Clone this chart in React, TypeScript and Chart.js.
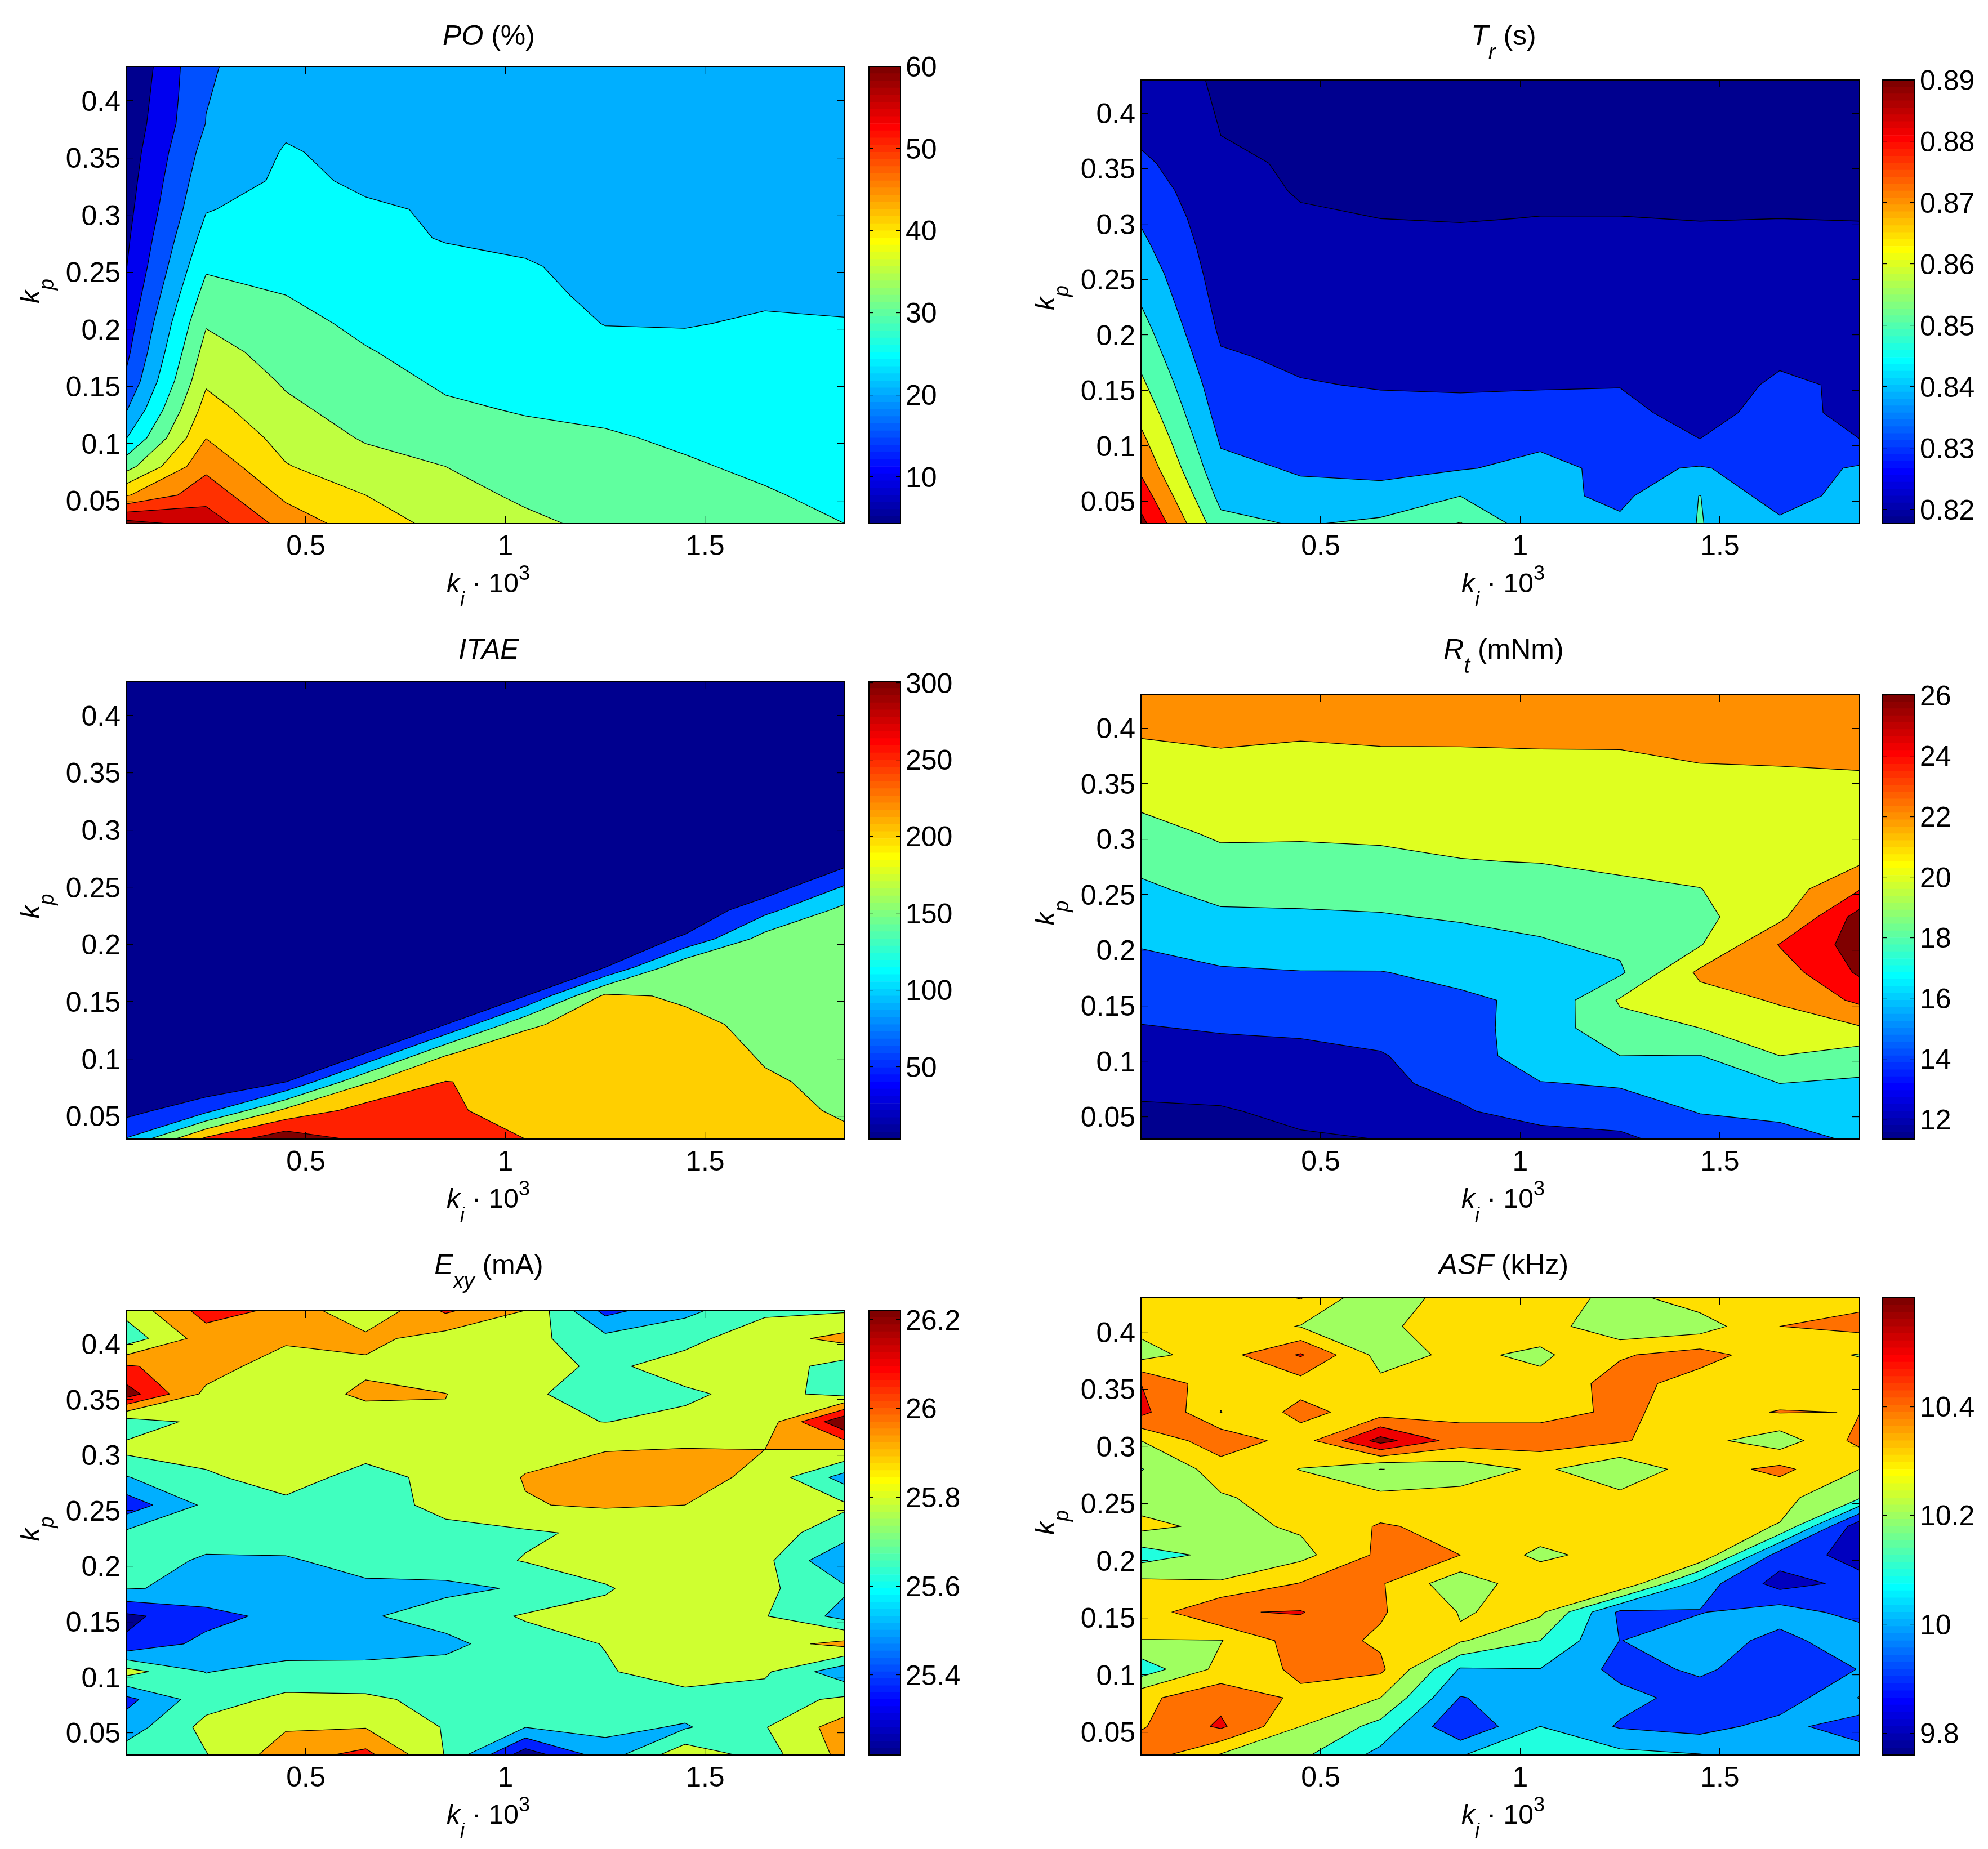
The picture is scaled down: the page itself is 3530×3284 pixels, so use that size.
import React, { useEffect, useRef } from "react";
import { Chart, registerables } from "chart.js";

Chart.register(...registerables);

const kiValues = [0.05, 0.25, 0.45, 0.65, 0.85, 1.05, 1.25, 1.45, 1.65, 1.85];
const kpValues = [0.43, 0.405, 0.38, 0.355, 0.33, 0.305, 0.28, 0.255, 0.23, 0.205, 0.18, 0.155, 0.13, 0.105, 0.08, 0.055, 0.03];
const kiTicks = [0.5, 1, 1.5];
const kpTicks = [0.05, 0.1, 0.15, 0.2, 0.25, 0.3, 0.35, 0.4];

// one inner list per ki value, top (kp = 0.43) to bottom (kp = 0.03)
const poColumns = [
  [5, 5.8, 6.5, 7.2, 7.8, 8.4, 9.1, 9.8, 11, 12.4, 13.8, 15.8, 19.6, 24.8, 33, 44.5, 62],
  [19.7, 19.8, 20.1, 21.8, 23.2, 24.7, 26.9, 29.3, 31.9, 34.6, 36.9, 39.2, 42, 44.9, 48.8, 53, 58],
  [21.5, 22.8, 24.4, 25.3, 25.6, 27, 28, 29.2, 30, 31.5, 33, 34.4, 36, 38.2, 40.3, 43.9, 48],
  [22, 22.6, 23.2, 24, 24.6, 25.3, 26, 26.9, 27.8, 29, 30.3, 31.5, 33, 34.5, 37, 40, 42.3],
  [22.6, 23, 23.4, 23.7, 24, 24.75, 24.8, 25.9, 26.6, 27.5, 28.3, 29.4, 30.6, 33, 35, 36.7, 38.6],
  [22.5, 22.8, 23, 23.2, 23.6, 24, 24.5, 25.2, 26, 26.7, 27.5, 28.6, 29.7, 31, 32.4, 34.2, 36],
  [22.3, 22.5, 22.7, 22.8, 23, 23.2, 23.5, 24.3, 24.2, 24.9, 26.2, 27.6, 29, 30.5, 31.8, 33, 33.9],
  [22, 22.1, 22.2, 22.4, 22.6, 22.8, 23.1, 23.5, 24, 24.8, 26, 27.1, 28.3, 29.3, 30.5, 31.6, 32.8],
  [21.8, 22, 22.1, 22.3, 22.5, 22.8, 23.2, 23.7, 24.5, 25.4, 26, 26.6, 27.3, 28, 29.2, 30.4, 31.5],
  [21.5, 21.7, 21.9, 22, 22.2, 22.5, 23, 23.6, 24.3, 25.2, 25.7, 26.2, 26.8, 27.3, 28, 28.9, 30],
];
const trColumns = [
  [0.825, 0.8265, 0.828, 0.832, 0.8355, 0.839, 0.8423, 0.846, 0.8495, 0.8535, 0.8575, 0.862, 0.867, 0.8725, 0.878, 0.8855, 0.893],
  [0.8188, 0.8193, 0.82, 0.8215, 0.8226, 0.8235, 0.8245, 0.8255, 0.8268, 0.8285, 0.831, 0.8336, 0.836, 0.839, 0.8425, 0.847, 0.853],
  [0.8178, 0.8182, 0.8186, 0.819, 0.8195, 0.8207, 0.8218, 0.8229, 0.824, 0.8255, 0.8286, 0.8305, 0.8325, 0.8355, 0.839, 0.8425, 0.8491],
  [0.8177, 0.8179, 0.8182, 0.8186, 0.8192, 0.82, 0.8215, 0.823, 0.8243, 0.8258, 0.8272, 0.8295, 0.8322, 0.835, 0.8378, 0.8427, 0.8521],
  [0.8177, 0.8178, 0.818, 0.8184, 0.819, 0.8198, 0.8212, 0.8225, 0.8238, 0.8252, 0.8268, 0.8292, 0.832, 0.8345, 0.8393, 0.8499, 0.8605],
  [0.8177, 0.8178, 0.818, 0.8183, 0.819, 0.8201, 0.8213, 0.8225, 0.8238, 0.8252, 0.8268, 0.8293, 0.8332, 0.8383, 0.8425, 0.8427, 0.8427],
  [0.8177, 0.8178, 0.818, 0.8183, 0.819, 0.8201, 0.8213, 0.8225, 0.8238, 0.8252, 0.8272, 0.8297, 0.8325, 0.835, 0.8377, 0.8378, 0.8417],
  [0.8177, 0.8178, 0.818, 0.8183, 0.8189, 0.8199, 0.821, 0.822, 0.8228, 0.8238, 0.8245, 0.8252, 0.8265, 0.8302, 0.8408, 0.8502, 0.8504],
  [0.8177, 0.8178, 0.818, 0.8183, 0.8188, 0.82, 0.8212, 0.8222, 0.8235, 0.8255, 0.8285, 0.8316, 0.8338, 0.8345, 0.8355, 0.8345, 0.8424],
  [0.8177, 0.8178, 0.818, 0.8183, 0.8188, 0.8199, 0.821, 0.8222, 0.8235, 0.8252, 0.8268, 0.8285, 0.8268, 0.8302, 0.8412, 0.845, 0.8455],
];
const itaeColumns = [
  [3, 3, 3, 3, 3.2, 3.4, 3.6, 3.8, 4, 4.3, 4.6, 5, 5.6, 6.5, 9, 32, 103],
  [3, 3, 3, 3.1, 3.2, 3.4, 3.5, 3.7, 3.9, 4.2, 4.5, 5, 5.8, 6.8, 10, 85, 262],
  [3, 3, 3.1, 3.1, 3.3, 3.4, 3.6, 3.8, 4, 4.3, 4.6, 5.2, 6, 9, 49, 211, 335],
  [3, 3, 3.1, 3.2, 3.3, 3.5, 3.7, 3.9, 4.1, 4.5, 5, 5.8, 12, 50, 195, 270, 288],
  [3, 3.1, 3.1, 3.2, 3.4, 3.6, 3.8, 4.1, 4.4, 5, 5.8, 10, 50, 195, 251, 258, 265],
  [3.1, 3.1, 3.2, 3.3, 3.5, 3.7, 4, 4.3, 5, 6, 10, 50, 190, 238, 240, 230, 250],
  [3.1, 3.2, 3.3, 3.4, 3.6, 3.9, 4.3, 5, 6, 8, 50, 210, 230, 235, 235, 225, 220],
  [3.2, 3.3, 3.4, 3.5, 3.7, 3.9, 4.2, 4.6, 7, 58, 190, 193, 212, 225, 225, 220, 215],
  [3.3, 3.4, 3.5, 3.6, 3.8, 4, 4.4, 5, 85, 170, 177, 183, 188, 195, 205, 205, 205],
  [3.4, 3.5, 3.6, 3.8, 4, 4.4, 8, 90, 165, 163, 165, 165, 170, 172, 190, 198, 203],
];
const rtColumns = [
  [23.1, 22.4, 21.7, 20.9, 20.2, 19.34, 18.5, 17.67, 16.9, 16.1, 15.4, 14.65, 13.9, 13.2, 12.45, 11.75, 11.4],
  [23.3, 22.6, 21.95, 21.4, 20.8, 20.25, 19.5, 18.6, 17.65, 16.7, 15.8, 15, 14.15, 13.4, 12.6, 11.85, 11.4],
  [23, 22.4, 21.8, 21.2, 20.7, 20.2, 19.5, 18.6, 17.75, 16.85, 15.95, 15.1, 14.25, 13.6, 13, 12.4, 11.8],
  [23.2, 22.6, 21.9, 21.4, 20.9, 20.3, 19.6, 18.75, 17.85, 16.95, 15.95, 15.25, 14.5, 13.9, 13.75, 12.9, 12.02],
  [23.1, 22.7, 21.9, 21.4, 20.8, 20.4, 19.95, 19.05, 18.2, 17.2, 16.4, 15.75, 15.3, 14.85, 14.35, 13.85, 13],
  [23.2, 22.6, 21.97, 21.4, 20.9, 20.5, 20.05, 19.3, 18.5, 17.8, 17.3, 16.3, 16.9, 17.3, 15.9, 14.6, 13.4],
  [23.4, 22.7, 21.98, 21.5, 21.1, 20.7, 20.25, 19.75, 19.2, 18.4, 17.7, 20.2, 19.4, 18, 16.2, 15, 13.6],
  [23, 22.7, 22.35, 21.6, 21.2, 20.9, 20.5, 19.97, 19.5, 19.85, 22.4, 21.2, 20, 17.95, 17, 16.1, 15],
  [23, 22.7, 22.4, 21.7, 21.4, 21, 20.7, 20.9, 21.5, 24.1, 23, 22.2, 21.1, 20, 18, 16.33, 15.5],
  [23.7, 23, 22.4, 21.85, 21.3, 21, 21.7, 23.9, 26.8, 26.85, 26.3, 24.4, 21.8, 19.03, 17.7, 16.8, 16.2],
];
// one inner list per kp value, left (ki = 0.05) to right (ki = 1.85)
const exyRows = [
  [25.834, 26.134, 26.044, 25.806, 26.099, 25.931, 25.463, 25.613, 25.763, 25.777],
  [25.706, 26.006, 25.963, 25.974, 25.87, 25.841, 25.691, 25.749, 25.877, 25.977],
  [26.091, 26.006, 25.849, 25.906, 25.82, 25.849, 25.763, 25.849, 25.863, 25.734],
  [26.291, 25.899, 25.849, 25.963, 25.937, 25.813, 25.734, 25.77, 25.834, 25.749],
  [25.72, 25.827, 25.82, 25.849, 25.92, 25.82, 25.789, 25.82, 25.849, 26.349],
  [25.827, 25.834, 25.834, 25.834, 25.863, 25.891, 25.927, 25.939, 25.934, 25.934],
  [25.641, 25.774, 25.841, 25.749, 25.827, 25.941, 26.02, 26.006, 25.884, 25.591],
  [25.42, 25.677, 25.763, 25.734, 25.827, 25.927, 25.949, 25.934, 25.834, 25.813],
  [25.677, 25.699, 25.72, 25.749, 25.756, 25.77, 25.82, 25.863, 25.849, 25.72],
  [25.706, 25.634, 25.634, 25.699, 25.72, 25.799, 25.863, 25.877, 25.827, 25.506],
  [25.656, 25.627, 25.599, 25.62, 25.62, 25.663, 25.777, 25.891, 25.82, 25.67],
  [25.334, 25.449, 25.556, 25.634, 25.706, 25.806, 25.834, 25.877, 25.799, 25.599],
  [25.384, 25.553, 25.563, 25.57, 25.613, 25.727, 25.796, 25.877, 25.877, 25.977],
  [25.849, 25.644, 25.706, 25.706, 25.706, 25.734, 25.777, 25.863, 25.813, 25.549],
  [25.463, 25.734, 25.82, 25.813, 25.756, 25.691, 25.706, 25.734, 25.727, 25.82],
  [25.577, 25.834, 25.92, 25.927, 25.781, 25.651, 25.691, 25.634, 25.784, 26.006],
  [25.72, 25.784, 26.013, 26.12, 25.784, 25.277, 25.577, 25.891, 25.734, 25.977],
];
const asfRows = [
  [10.33, 10.33, 10.405, 10.21, 10.37, 10.36, 10.265, 10.355, 10.34, 10.37],
  [10.33, 10.36, 10.295, 10.27, 10.38, 10.35, 10.22, 10.25, 10.4, 10.43],
  [10.26, 10.36, 10.51, 10.265, 10.32, 10.28, 10.39, 10.44, 10.34, 10.295],
  [10.5, 10.33, 10.36, 10.32, 10.34, 10.33, 10.44, 10.355, 10.34, 10.36],
  [10.53, 10.298, 10.43, 10.35, 10.37, 10.37, 10.415, 10.367, 10.405, 10.398],
  [10.3, 10.47, 10.35, 10.64, 10.45, 10.45, 10.412, 10.33, 10.244, 10.43],
  [10.195, 10.345, 10.298, 10.198, 10.24, 10.32, 10.22, 10.355, 10.425, 10.3],
  [10.25, 10.29, 10.34, 10.33, 10.34, 10.35, 10.33, 10.35, 10.33, 10.21],
  [10.33, 10.27, 10.314, 10.41, 10.37, 10.36, 10.35, 10.34, 10.295, 9.83],
  [10.15, 10.23, 10.27, 10.42, 10.4, 10.275, 10.345, 10.39, 9.95, 9.865],
  [10.33, 10.31, 10.405, 10.41, 10.23, 10.38, 10.39, 10.05, 9.86, 9.93],
  [10.34, 10.495, 10.505, 10.41, 10.295, 10.32, 9.98, 9.995, 10.05, 9.96],
  [10.298, 10.296, 10.45, 10.385, 10.31, 10.2, 9.998, 10.06, 9.965, 10.07],
  [10.14, 10.33, 10.42, 10.42, 10.09, 10.098, 9.97, 10.013, 9.955, 10.002],
  [10.375, 10.47, 10.38, 10.3, 9.995, 10.05, 10.03, 9.965, 9.94, 10.105],
  [10.39, 10.517, 10.3, 10.167, 9.91, 10.1, 9.99, 9.96, 10.04, 9.93],
  [10.46, 10.29, 10.22, 10.07, 10.095, 10.18, 10.13, 10.105, 10.05, 10.06],
];

const poLevels = [10, 15, 20, 25, 30, 35, 40, 45, 50, 55, 60];
const trLevels = [0.82, 0.83, 0.84, 0.85, 0.86, 0.87, 0.88, 0.89];
const itaeLevels = [50, 100, 150, 200, 250, 300];
const rtLevels = [12, 14, 16, 18, 20, 22, 24, 26];
const exyLevels = [25.363, 25.506, 25.649, 25.791, 25.934, 26.077, 26.22];
const asfLevels = [9.8, 9.9, 10, 10.1, 10.2, 10.3, 10.4, 10.5, 10.6];

const poBarTicks = [10, 20, 30, 40, 50, 60];
const trBarTicks = [0.82, 0.83, 0.84, 0.85, 0.86, 0.87, 0.88, 0.89];
const itaeBarTicks = [50, 100, 150, 200, 250, 300];
const rtBarTicks = [12, 14, 16, 18, 20, 22, 24, 26];
const exyBarTicks = [25.4, 25.6, 25.8, 26, 26.2];
const asfBarTicks = [9.8, 10, 10.2, 10.4];

// ambiguous grid cells as the picture resolves them: level, ki index, kp index, whether high corners join
const exySaddles: [number, number, number, boolean][] = [[25.649, 6, 15, false]];
const asfSaddles: [number, number, number, boolean][] = [
  [10.4, 0, 4, true],
  [10.4, 2, 4, false],
  [10.4, 1, 13, false],
  [10.3, 4, 11, true],
];

const FONT = '"Liberation Sans"';
const TICK_SIZE = 50;
const TITLE_SIZE = 50;
const LABEL_SIZE = 48;
const SMALL_RATIO = 0.76;
const Y_AXIS_W = 200;
const X_AXIS_H = 80;
const BAR_AXIS_W = 130;

type Run = { t: string; i?: boolean; sub?: boolean; sup?: boolean };

const transpose = (cols: number[][]) => kpValues.map((_, r) => cols.map((col) => col[r]));

const PANELS = [
  { key: "po", z: transpose(poColumns), levels: poLevels, bar: poBarTicks, saddles: [], range: [4.3, 60], title: [{ t: "PO", i: true }, { t: " (%)" }] as Run[], col: 0, y0: 0, h: 1100, top: 118, bottom: 930, titleY: 80 },
  { key: "tr", z: transpose(trColumns), levels: trLevels, bar: trBarTicks, saddles: [], range: [0.8177, 0.89], title: [{ t: "T", i: true }, { t: "r", i: true, sub: true }, { t: " (s)" }] as Run[], col: 1, y0: 0, h: 1100, top: 142, bottom: 930, titleY: 80 },
  { key: "itae", z: transpose(itaeColumns), levels: itaeLevels, bar: itaeBarTicks, saddles: [], range: [3, 301], title: [{ t: "ITAE", i: true }] as Run[], col: 0, y0: 1100, h: 1090, top: 1210, bottom: 2023, titleY: 1170 },
  { key: "rt", z: transpose(rtColumns), levels: rtLevels, bar: rtBarTicks, saddles: [], range: [11.35, 26.02], title: [{ t: "R", i: true }, { t: "t", i: true, sub: true }, { t: " (mNm)" }] as Run[], col: 1, y0: 1100, h: 1090, top: 1234, bottom: 2023, titleY: 1170 },
  { key: "exy", z: exyRows, levels: exyLevels, bar: exyBarTicks, saddles: exySaddles, range: [25.22, 26.22], title: [{ t: "E", i: true }, { t: "xy", i: true, sub: true }, { t: " (mA)" }] as Run[], col: 0, y0: 2190, h: 1094, top: 2328, bottom: 3117, titleY: 2263 },
  { key: "asf", z: asfRows, levels: asfLevels, bar: asfBarTicks, saddles: asfSaddles, range: [9.76, 10.6], title: [{ t: "ASF", i: true }, { t: " (kHz)" }] as Run[], col: 1, y0: 2190, h: 1094, top: 2305, bottom: 3117, titleY: 2263 },
];

const COLS = [
  { x0: 0, w: 1530, left: 224, right: 1500, barX0: 1533, barW: 260, barL: 1543, barR: 1599 },
  { x0: 1800, w: 1530, left: 2026, right: 3302, barX0: 3333, barW: 197, barL: 3343, barR: 3400 },
];

// MATLAB's 64-entry jet map
const jetRamp: number[] = [];
for (let k = 1; k <= 16; k++) jetRamp.push(k / 16);
for (let k = 0; k < 15; k++) jetRamp.push(1);
for (let k = 16; k >= 1; k--) jetRamp.push(k / 16);
function jet(i: number) {
  const at = (k: number) => (k >= 0 && k < jetRamp.length ? jetRamp[k] : 0);
  const c = (v: number) => Math.round(v * 255);
  return `rgb(${c(at(i - 24))},${c(at(i - 8))},${c(at(i + 8))})`;
}
const colorOf = (v: number, range: number[]) =>
  jet(Math.max(0, Math.min(63, Math.floor(((v - range[0]) / (range[1] - range[0])) * 64))));

type P = { x: number; y: number; k: string };
const mk = (x: number, y: number): P => ({ x, y, k: `${x.toFixed(8)},${y.toFixed(9)}` });

function ringsAt(z: number[][], L: number, saddles: [number, number, number, boolean][]) {
  const edges = new Map<string, [P, P]>();
  const add = (a: P, b: P) => {
    if (a.k === b.k) return;
    const rev = `${b.k}|${a.k}`;
    if (edges.has(rev)) edges.delete(rev);
    else edges.set(`${a.k}|${b.k}`, [a, b]);
  };
  const vertex = (p: number[]) => mk(kiValues[p[0]], kpValues[p[1]]);
  const crossing = (p: number[], q: number[]) => {
    const low = p[0] + p[1] < q[0] + q[1] ? p : q;
    const high = low === p ? q : p;
    const zl = z[low[1]][low[0]];
    const zh = z[high[1]][high[0]];
    const t = (L - zl) / (zh - zl);
    return mk(
      kiValues[low[0]] + (kiValues[high[0]] - kiValues[low[0]]) * t,
      kpValues[low[1]] + (kpValues[high[1]] - kpValues[low[1]]) * t
    );
  };
  const addPoly = (poly: P[]) => {
    for (let i = 0; i < poly.length; i++) add(poly[i], poly[(i + 1) % poly.length]);
  };
  for (let r = 0; r < kpValues.length - 1; r++) {
    for (let c = 0; c < kiValues.length - 1; c++) {
      const corners = [[c, r], [c + 1, r], [c + 1, r + 1], [c, r + 1]];
      const vals = corners.map((p) => z[p[1]][p[0]]);
      const inside = vals.map((v) => v >= L);
      const saddle = inside[0] === inside[2] && inside[1] === inside[3] && inside[0] !== inside[1];
      const rule = saddles.find((s) => s[0] === L && s[1] === c && s[2] === r);
      const joined = rule ? rule[3] : (vals[0] + vals[1] + vals[2] + vals[3]) / 4 >= L;
      if (saddle && !joined) {
        for (let i = 0; i < 4; i++) {
          if (!inside[i]) continue;
          addPoly([vertex(corners[i]), crossing(corners[i], corners[(i + 1) % 4]), crossing(corners[(i + 3) % 4], corners[i])]);
        }
        continue;
      }
      const poly: P[] = [];
      for (let i = 0; i < 4; i++) {
        const j = (i + 1) % 4;
        if (inside[i]) poly.push(vertex(corners[i]));
        if (inside[i] !== inside[j]) poly.push(crossing(corners[i], corners[j]));
      }
      addPoly(poly);
    }
  }
  const outgoing = new Map<string, [P, P][]>();
  edges.forEach((e) => {
    if (!outgoing.has(e[0].k)) outgoing.set(e[0].k, []);
    outgoing.get(e[0].k)!.push(e);
  });
  const rings: P[][] = [];
  outgoing.forEach((list) => {
    while (list.length) {
      const first = list.pop()!;
      const ring: P[] = [first[0]];
      let cur = first[1];
      let guard = 0;
      while (cur.k !== first[0].k && guard++ < 20000) {
        ring.push(cur);
        const next = outgoing.get(cur.k);
        if (!next || !next.length) break;
        cur = next.pop()![1];
      }
      ring.push(first[0]);
      rings.push(ring);
    }
  });
  return rings;
}

function areaOf(ring: P[]) {
  let a = 0;
  for (let i = 0; i < ring.length - 1; i++) a += ring[i].x * ring[i + 1].y - ring[i + 1].x * ring[i].y;
  return a / 2;
}

function contourDatasets(z: number[][], levels: number[], range: number[], saddles: any) {
  const xMin = kiValues[0];
  const xMax = kiValues[kiValues.length - 1];
  const yMin = kpValues[kpValues.length - 1];
  const yMax = kpValues[0];
  const base = [mk(xMin, yMax), mk(xMax, yMax), mk(xMax, yMin), mk(xMin, yMin), mk(xMin, yMax)];
  const layers = [{ ring: base, size: Infinity, order: -1, color: colorOf(range[0], range) }];
  levels.forEach((L, li) => {
    ringsAt(z, L, saddles).forEach((ring) => {
      const a = areaOf(ring);
      const outer = a < 0; // cells are walked clockwise in data space
      const fillValue = outer ? L : li > 0 ? levels[li - 1] : range[0];
      layers.push({ ring, size: Math.abs(a), order: li, color: colorOf(fillValue, range) });
    });
  });
  layers.sort((p, q) => q.size - p.size || p.order - q.order);
  // Chart.js paints the last dataset first, so the largest loop goes last
  return layers.reverse().map((l) => ({
    data: l.ring.map((p) => ({ x: p.x, y: p.y })),
    showLine: true,
    fill: "shape",
    backgroundColor: l.color,
    borderColor: "#000",
    borderWidth: 1.3,
    pointRadius: 0,
    tension: 0.0001,
    capBezierPoints: true,
  }));
}

function drawRuns(ctx: CanvasRenderingContext2D, runs: Run[], x: number, y: number, rotate: boolean, size: number) {
  const small = Math.round(size * SMALL_RATIO);
  const fontOf = (r: Run) => `${r.i ? "italic " : ""}${r.sub || r.sup ? small : size}px ${FONT}`;
  let width = 0;
  runs.forEach((r) => {
    ctx.font = fontOf(r);
    width += ctx.measureText(r.t).width;
  });
  ctx.save();
  ctx.translate(x, y);
  if (rotate) ctx.rotate(-Math.PI / 2);
  ctx.fillStyle = "#000";
  ctx.textBaseline = "alphabetic";
  ctx.textAlign = "left";
  let pen = -width / 2;
  runs.forEach((r) => {
    ctx.font = fontOf(r);
    ctx.fillText(r.t, pen, r.sub ? 25 : r.sup ? -22 : 0);
    pen += ctx.measureText(r.t).width;
  });
  ctx.restore();
}

const xLabel: Run[] = [{ t: "k", i: true }, { t: "i", i: true, sub: true }, { t: " \u00B7 10" }, { t: "3", sup: true }];
const yLabel: Run[] = [{ t: "k", i: true }, { t: "p", i: true, sub: true }];

const fixedTicks = (values: number[]) => (s: any) => {
  s.ticks = values.map((value) => ({ value }));
};
const widthOf = (w: number) => (s: any) => {
  s.width = w;
};
const heightOf = (h: number) => (s: any) => {
  s.height = h;
};
const labelOf = (v: any) => String(v);

function ContourPanel({ panel }: { panel: (typeof PANELS)[number] }) {
  const ref = useRef<HTMLCanvasElement>(null);
  useEffect(() => {
    const col = COLS[panel.col];
    const frame = { display: true, color: "#000", width: 2, z: 1 };
    const marks = { drawOnChartArea: false, drawTicks: true, tickLength: -13, color: "#000", lineWidth: 1.2, z: 1 };
    const font = { family: FONT, size: TICK_SIZE };
    const text = {
      id: "panelText",
      afterDraw(chart: any) {
        const ctx = chart.ctx;
        const area = chart.chartArea;
        const cx = (area.left + area.right) / 2;
        drawRuns(ctx, panel.title, cx + 6, panel.titleY - panel.y0, false, TITLE_SIZE);
        drawRuns(ctx, xLabel, cx + 5, area.bottom + 122, false, LABEL_SIZE);
        drawRuns(ctx, yLabel, area.left - 154, (area.top + area.bottom) / 2 - 7, true, LABEL_SIZE);
      },
    };
    const chart = new Chart(ref.current!, {
      type: "scatter",
      data: { datasets: contourDatasets(panel.z, panel.levels, panel.range, panel.saddles) as any },
      plugins: [text],
      options: {
        animation: false,
        responsive: false,
        events: [],
        layout: {
          padding: {
            left: col.left - col.x0 - Y_AXIS_W,
            right: col.x0 + col.w - col.right,
            top: panel.top - panel.y0,
            bottom: panel.y0 + panel.h - panel.bottom - X_AXIS_H,
          },
        },
        plugins: { legend: { display: false }, tooltip: { enabled: false } },
        scales: {
          x: {
            type: "linear", position: "bottom", min: 0.05, max: 1.85,
            afterBuildTicks: fixedTicks(kiTicks), afterFit: heightOf(X_AXIS_H),
            border: frame, grid: marks,
            ticks: { callback: labelOf, font, color: "#000", padding: 25, autoSkip: false, maxRotation: 0 },
          },
          x2: {
            type: "linear", position: "top", min: 0.05, max: 1.85,
            afterBuildTicks: fixedTicks(kiTicks), afterFit: heightOf(0),
            border: frame, grid: marks, ticks: { display: false },
          },
          y: {
            type: "linear", position: "left", min: 0.03, max: 0.43,
            afterBuildTicks: fixedTicks(kpTicks), afterFit: widthOf(Y_AXIS_W),
            border: frame, grid: marks,
            ticks: { callback: labelOf, font, color: "#000", padding: 23, autoSkip: false, labelOffset: 4 },
          },
          y2: {
            type: "linear", position: "right", min: 0.03, max: 0.43,
            afterBuildTicks: fixedTicks(kpTicks), afterFit: widthOf(0),
            border: frame, grid: marks, ticks: { display: false },
          },
        },
      } as any,
    });
    return () => chart.destroy();
  }, [panel]);
  const col = COLS[panel.col];
  return (
    <canvas
      ref={ref}
      width={col.w}
      height={panel.h}
      style={{ position: "absolute", left: col.x0, top: panel.y0, width: col.w, height: panel.h, display: "block" }}
    />
  );
}

function ColorBar({ panel }: { panel: (typeof PANELS)[number] }) {
  const ref = useRef<HTMLCanvasElement>(null);
  const col = COLS[panel.col];
  useEffect(() => {
    const [lo, hi] = panel.range;
    const steps = Array.from({ length: 64 }, (_, i) => i);
    const frame = { display: true, color: "#000", width: 2, z: 1 };
    const marks = { drawOnChartArea: false, drawTicks: true, tickLength: -8, color: "#000", lineWidth: 1.2, z: 1 };
    const chart = new Chart(ref.current!, {
      type: "bar",
      data: {
        labels: [""],
        datasets: steps.map((i) => ({
          data: [[lo + ((hi - lo) * i) / 64, lo + ((hi - lo) * (i + 1)) / 64]],
          backgroundColor: jet(i),
          borderWidth: 0,
          barPercentage: 1,
          categoryPercentage: 1,
          grouped: false,
        })) as any,
      },
      options: {
        animation: false,
        responsive: false,
        events: [],
        layout: {
          padding: {
            left: col.barL - col.barX0,
            right: col.barX0 + col.barW - col.barR - BAR_AXIS_W,
            top: panel.top - panel.y0,
            bottom: panel.y0 + panel.h - panel.bottom,
          },
        },
        plugins: { legend: { display: false }, tooltip: { enabled: false } },
        scales: {
          x: {
            position: "bottom", afterFit: heightOf(0), border: frame,
            grid: { display: false }, ticks: { display: false },
          },
          x2: {
            type: "linear", position: "top", min: 0, max: 1, afterFit: heightOf(0), border: frame,
            grid: { display: false }, ticks: { display: false },
          },
          y: {
            type: "linear", position: "right", min: lo, max: hi,
            afterBuildTicks: fixedTicks(panel.bar), afterFit: widthOf(BAR_AXIS_W),
            border: frame, grid: marks,
            ticks: { callback: labelOf, font: { family: FONT, size: TICK_SIZE }, color: "#000", padding: 17, autoSkip: false, labelOffset: 4 },
          },
          y2: {
            type: "linear", position: "left", min: lo, max: hi,
            afterBuildTicks: fixedTicks(panel.bar), afterFit: widthOf(0),
            border: frame, grid: marks, ticks: { display: false },
          },
        },
      } as any,
    });
    return () => chart.destroy();
  }, [panel, col]);
  return (
    <canvas
      ref={ref}
      width={col.barW}
      height={panel.h}
      style={{ position: "absolute", left: col.barX0, top: panel.y0, width: col.barW, height: panel.h, display: "block" }}
    />
  );
}

export default function App() {
  return (
    <div style={{ position: "absolute", left: 0, top: 0, width: 3530, height: 3284, background: "#fff" }}>
      {PANELS.map((p) => (
        <React.Fragment key={p.key}>
          <ContourPanel panel={p} />
          <ColorBar panel={p} />
        </React.Fragment>
      ))}
    </div>
  );
}
